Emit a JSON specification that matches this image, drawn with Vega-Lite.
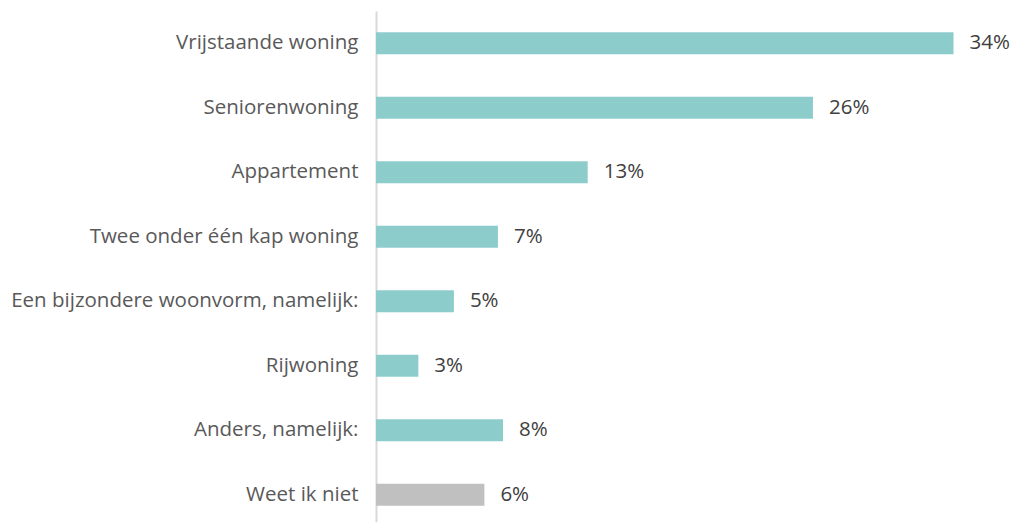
{
  "$schema": "https://vega.github.io/schema/vega-lite/v6.json",
  "autosize": "none",
  "width": 630,
  "height": 516,
  "padding": {"left": 376, "top": 11, "right": 4, "bottom": 0},
  "background": "white",
  "config": {"view": {"stroke": null}, "font": "Open Sans"},
  "data": {"values": [
    {"cat": "Vrijstaande woning", "value": 34.1, "label": "34%", "grp": "a"},
    {"cat": "Seniorenwoning", "value": 25.8, "label": "26%", "grp": "a"},
    {"cat": "Appartement", "value": 12.5, "label": "13%", "grp": "a"},
    {"cat": "Twee onder één kap woning", "value": 7.2, "label": "7%", "grp": "a"},
    {"cat": "Een bijzondere woonvorm, namelijk:", "value": 4.6, "label": "5%", "grp": "a"},
    {"cat": "Rijwoning", "value": 2.5, "label": "3%", "grp": "a"},
    {"cat": "Anders, namelijk:", "value": 7.5, "label": "8%", "grp": "a"},
    {"cat": "Weet ik niet", "value": 6.4, "label": "6%", "grp": "b"}
  ]},
  "encoding": {
    "y": {"field": "cat", "type": "nominal", "sort": null,
      "scale": {"paddingInner": 0.66, "paddingOuter": 0.33},
      "axis": {"title": null, "ticks": false, "domain": true, "domainColor": "#d9d9d9", "domainWidth": 2,
        "labelFontSize": 20.5, "labelFontWeight": "normal", "labelColor": "#595959", "labelPadding": 18, "labelLimit": 400}},
    "x": {"field": "value", "type": "quantitative", "scale": {"domain": [0, 37.2]}, "axis": null}
  },
  "layer": [
    {"mark": {"type": "bar", "height": 22},
     "encoding": {"color": {"field": "grp", "type": "nominal", "legend": null,
       "scale": {"domain": ["a", "b"], "range": ["#8ccccb", "#c0c0c0"]}}}},
    {"mark": {"type": "text", "align": "left", "dx": 16, "fontSize": 20.5, "color": "#404040"},
     "encoding": {"text": {"field": "label"}}}
  ]
}
